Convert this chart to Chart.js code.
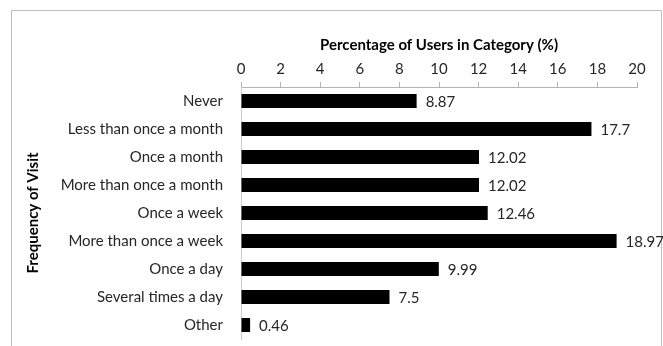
<!DOCTYPE html>
<html>
<head>
<meta charset="utf-8">
<script src="https://cdn.jsdelivr.net/npm/chart.js@4/dist/chart.umd.min.js"></script>
<style>
  html, body { margin: 0; padding: 0; background: #fff; }
  #wrap { width: 663px; height: 346px; position: relative; }
</style>
</head>
<body>
<div id="wrap"><canvas id="c" width="663" height="346"></canvas></div>
<script>
// Visit-frequency categories and the share of users in each (%)
const categories = [
  'Never',
  'Less than once a month',
  'Once a month',
  'More than once a month',
  'Once a week',
  'More than once a week',
  'Once a day',
  'Several times a day',
  'Other'
];
const userShare = [8.87, 17.7, 12.02, 12.02, 12.46, 18.97, 9.99, 7.5, 0.46];
const valueLabels = ['8.87', '17.7', '12.02', '12.02', '12.46', '18.97', '9.99', '7.5', '0.46'];

const FONT = 'Lato, "Open Sans", sans-serif';
const SIZE = 15;

// Thin frame around the figure
const framePlugin = {
  id: 'frame',
  beforeDraw(chart) {
    const ctx = chart.ctx;
    ctx.save();
    ctx.fillStyle = '#ffffff';
    ctx.fillRect(0, 0, chart.width, chart.height);
    ctx.strokeStyle = '#bdbdbd';
    ctx.lineWidth = 1;
    ctx.beginPath();
    ctx.moveTo(11.5, chart.height + 5);
    ctx.lineTo(11.5, 10.5);
    ctx.lineTo(661.5, 10.5);
    ctx.lineTo(661.5, chart.height + 5);
    ctx.stroke();
    ctx.restore();
  }
};

// Value printed just past the end of each bar
const valueLabelPlugin = {
  id: 'valueLabels',
  afterDatasetsDraw(chart) {
    const ctx = chart.ctx;
    const meta = chart.getDatasetMeta(0);
    ctx.save();
    ctx.font = SIZE + 'px ' + FONT;
    ctx.fillStyle = '#262626';
    ctx.textAlign = 'left';
    ctx.textBaseline = 'middle';
    meta.data.forEach((bar, i) => {
      ctx.fillText(valueLabels[i], bar.x + 9, bar.y + 1);
    });
    ctx.restore();
  }
};

new Chart(document.getElementById('c'), {
  type: 'bar',
  data: {
    labels: categories,
    datasets: [{
      data: userShare,
      backgroundColor: '#000000',
      borderWidth: 0,
      barPercentage: 0.5,
      categoryPercentage: 1.0
    }]
  },
  plugins: [framePlugin, valueLabelPlugin],
  options: {
    indexAxis: 'y',
    responsive: false,
    animation: false,
    layout: { padding: { left: 20, right: 26, top: 33, bottom: 7 } },
    plugins: {
      legend: { display: false },
      tooltip: { enabled: false }
    },
    scales: {
      x: {
        position: 'top',
        min: 0,
        max: 20,
        ticks: {
          stepSize: 2,
          color: '#262626',
          font: { family: FONT, size: SIZE },
          padding: 4
        },
        grid: {
          drawOnChartArea: false,
          drawTicks: true,
          tickLength: 5,
          color: '#b5b5b5'
        },
        border: { display: true, color: '#b5b5b5' },
        title: {
          display: true,
          text: 'Percentage of Users in Category (%)',
          color: '#000000',
          font: { family: FONT, size: SIZE, weight: 'bold' },
          padding: { top: 3, bottom: 4 }
        },
        afterFit(scale) {
          scale.height = 54;
          scale.paddingLeft = 0;
          scale.paddingRight = 0;
        }
      },
      y: {
        ticks: {
          color: '#262626',
          font: { family: FONT, size: SIZE },
          padding: 18
        },
        grid: {
          drawOnChartArea: false,
          drawTicks: false
        },
        border: { display: true, color: '#c8c8c8' },
        title: {
          display: true,
          text: 'Frequency of Visit',
          color: '#000000',
          font: { family: FONT, size: SIZE, weight: 'bold' },
          padding: { top: 4, bottom: 0 }
        },
        afterFit(scale) {
          scale.width = 221;
          scale.paddingTop = 0;
          scale.paddingBottom = 0;
        }
      }
    }
  }
});
</script>
</body>
</html>
